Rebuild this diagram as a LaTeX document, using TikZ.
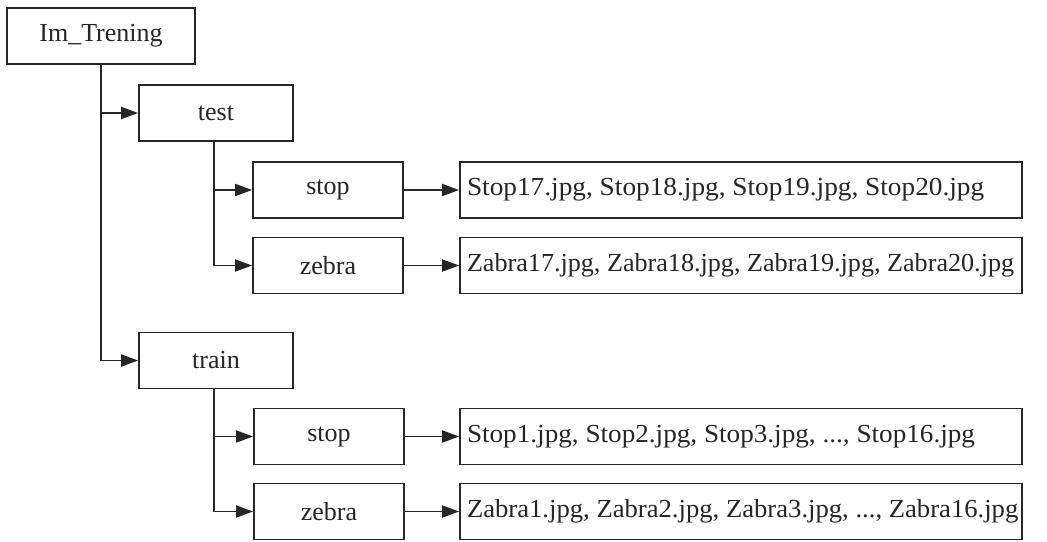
\documentclass[tikz,border=0pt]{standalone}
\usepackage{fontspec}
\setmainfont{Liberation Serif}
\usetikzlibrary{arrows.meta}
\definecolor{ink}{HTML}{262626}
\begin{document}
\begin{tikzpicture}[x=1pt,y=-1pt,
  box/.style={draw=ink, line width=1.8pt, text=ink, font=\fontsize{26}{30}\selectfont,
    minimum height=56pt, inner sep=0pt, anchor=center},
  listbox/.style={box, minimum width=562pt},
  conn/.style={draw=ink, line width=1.8pt, -{Triangle[length=17pt,width=12pt]}}]
\newcommand{\lft}[2]{\makebox[548pt][l]{\scalebox{#1}[1]{#2}}}
\useasboundingbox (0,0) rectangle (1047,541);
\fill[white] (0,0) rectangle (1047,541);
\node[box, minimum width=188pt] (root) at (101,36) {Im\_Trening};
\node[box, minimum width=154pt] (test) at (216,113) {test};
\node[box, minimum width=150pt] (s1) at (328,190) {stop};
\node[box, minimum width=150pt] (z1) at (328,265.5) {zebra};
\node[listbox] (l1) at (741,190) {\lft{1.05}{Stop17.jpg, Stop18.jpg, Stop19.jpg, Stop20.jpg}};
\node[listbox] (l2) at (741,265.5) {\lft{1.005}{Zabra17.jpg, Zabra18.jpg, Zabra19.jpg, Zabra20.jpg}};
\node[box, minimum width=154pt] (train) at (216,360.5) {train};
\node[box, minimum width=150pt] (s2) at (329,436.5) {stop};
\node[box, minimum width=150pt] (z2) at (329,511.5) {zebra};
\node[listbox] (l3) at (741,436.5) {\lft{1.045}{Stop1.jpg, Stop2.jpg, Stop3.jpg, ..., Stop16.jpg}};
\node[listbox] (l4) at (741,511.5) {\lft{1.025}{Zabra1.jpg, Zabra2.jpg, Zabra3.jpg, ..., Zabra16.jpg}};
\draw[conn] (root.south) |- (test.west);
\draw[conn] (root.south) |- (train.west);
\draw[conn] (test.south -| s1.west) ++(-38,0) coordinate (t1) |- (s1.west);
\draw[conn] (t1) |- (z1.west);
\draw[conn] (train.south -| s2.west) ++(-39,0) coordinate (t2) |- (s2.west);
\draw[conn] (t2) |- (z2.west);
\draw[conn] (s1) -- (l1);
\draw[conn] (z1) -- (l2);
\draw[conn] (s2) -- (l3);
\draw[conn] (z2) -- (l4);
\end{tikzpicture}
\end{document}
